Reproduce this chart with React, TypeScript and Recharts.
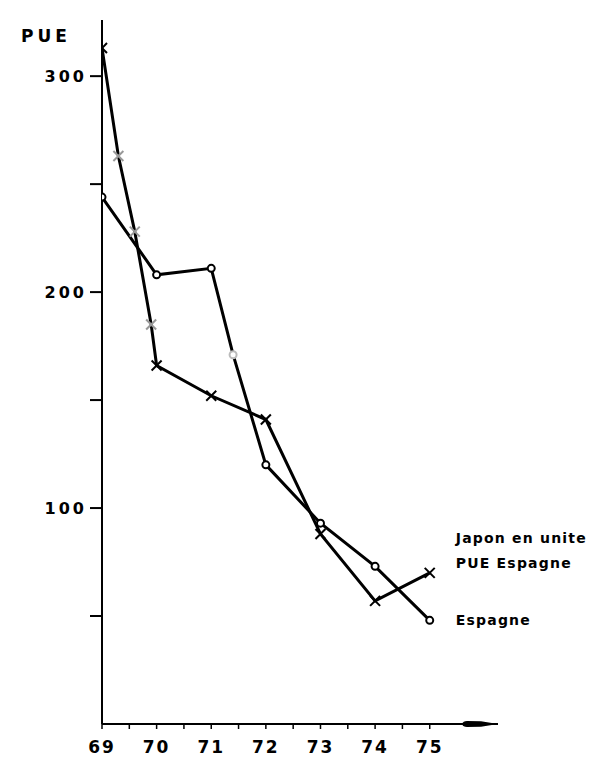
import { LineChart, Line, XAxis, YAxis, Label, LabelList } from "recharts"

// années et valeurs
const espagneYears = [69, 70, 71, 71.4, 72, 73, 74, 75]
const espagneValues = [244, 208, 211, 171, 120, 93, 73, 48]

const japonYears = [69, 69.3, 69.6, 69.9, 70, 71, 72, 73, 74, 75]
const japonValues = [313, 263, 228, 185, 166, 152, 141, 88, 57, 70]

const xTicks = [69, 69.5, 70, 70.5, 71, 71.5, 72, 72.5, 73, 73.5, 74, 74.5, 75]
const yTicks = [50, 100, 150, 200, 250, 300]

const japonLabel = ["Japon en unite", "PUE Espagne"]
const espagneLabel = "Espagne"

const espagneData = espagneYears.map((year, i) => ({ year, value: espagneValues[i] }))
const japonData = japonYears.map((year, i) => ({ year, value: japonValues[i] }))

const FONT = "'DejaVu Sans', sans-serif"

const isMain = (year: number) => Number.isInteger(year)

const CircleDot = (props: any) => {
  const { cx, cy, payload } = props
  if (cx == null || cy == null) return null
  const faint = !isMain(payload.year)
  return (
    <circle
      key={`c-${payload.year}`}
      cx={cx}
      cy={cy}
      r={3.5}
      fill="#fff"
      stroke={faint ? "#bbb" : "#000"}
      strokeWidth={2}
    />
  )
}

const CrossDot = (props: any) => {
  const { cx, cy, payload } = props
  if (cx == null || cy == null) return null
  const faint = !isMain(payload.year)
  const s = 5
  const color = faint ? "#999" : "#000"
  return (
    <g key={`x-${payload.year}`}>
      <line x1={cx - s} y1={cy - s} x2={cx + s} y2={cy + s} stroke={color} strokeWidth={2} />
      <line x1={cx - s} y1={cy + s} x2={cx + s} y2={cy - s} stroke={color} strokeWidth={2} />
    </g>
  )
}

const labelStyle = {
  fontFamily: FONT,
  fontWeight: "bold" as const,
  fontSize: 14,
  letterSpacing: 1.2,
  fill: "#000",
}

export default function App() {
  const lastJ = japonData.length - 1
  const lastE = espagneData.length - 1

  return (
    <div style={{ position: "absolute", left: 0, top: 0, background: "#fff" }}>
      <LineChart
        width={600}
        height={768}
        margin={{ top: 20, right: 102, bottom: 14, left: 20 }}
      >
        <defs>
          <marker
            id="arrowHead"
            markerWidth={40}
            markerHeight={10}
            refX={36}
            refY={5}
            orient="auto"
            markerUnits="userSpaceOnUse"
          >
            <path d="M0,5 Q1,2 5,2 L19,2.3 L36,5 L19,7.7 L5,8 Q1,8 0,5 Z" fill="#000" />
          </marker>
        </defs>
        <XAxis
          dataKey="year"
          type="number"
          domain={[69, 76.25]}
          ticks={xTicks}
          interval={0}
          allowDataOverflow
          height={30}
          tickSize={5}
          tickMargin={12}
          tickFormatter={(v: number) => (Number.isInteger(v) ? String(v) : "")}
          tick={{ fill: "#000", fontSize: 17, fontFamily: FONT, fontWeight: "bold", letterSpacing: 2 }}
          tickLine={{ stroke: "#000", strokeWidth: 1.5 }}
          axisLine={{ stroke: "#000", strokeWidth: 2, markerEnd: "url(#arrowHead)" }}
        />
        <YAxis
          dataKey="value"
          type="number"
          domain={[0, 326]}
          ticks={yTicks}
          interval={0}
          allowDataOverflow
          width={82}
          tickSize={12}
          tickMargin={3}
          tickFormatter={(v: number) => (v % 100 === 0 ? String(v) : "")}
          tick={{ fill: "#000", fontSize: 16, fontFamily: FONT, fontWeight: "bold", letterSpacing: 3 }}
          tickLine={{ stroke: "#000", strokeWidth: 2 }}
          axisLine={{ stroke: "#000", strokeWidth: 2 }}
        >
          <Label
            content={(props: any) => {
              const vb = props.viewBox || {}
              return (
                <text
                  x={vb.x + 1}
                  y={vb.y + 22}
                  fontFamily={FONT}
                  fontSize={17}
                  fontWeight="bold"
                  letterSpacing={4}
                  fill="#000"
                >
                  PUE
                </text>
              )
            }}
          />
        </YAxis>
        <Line
          data={japonData}
          dataKey="value"
          type="linear"
          stroke="#000"
          strokeWidth={3}
          dot={<CrossDot />}
          activeDot={false}
          isAnimationActive={false}
        >
          <LabelList
            dataKey="value"
            content={(props: any) => {
              if (props.index !== lastJ) return null
              const { x, y } = props
              return (
                <g>
                  <text x={x + 26} y={y - 30} {...labelStyle}>
                    {japonLabel[0]}
                  </text>
                  <text x={x + 26} y={y - 5} {...labelStyle}>
                    {japonLabel[1]}
                  </text>
                </g>
              )
            }}
          />
        </Line>
        <Line
          data={espagneData}
          dataKey="value"
          type="linear"
          stroke="#000"
          strokeWidth={3}
          dot={<CircleDot />}
          activeDot={false}
          isAnimationActive={false}
        >
          <LabelList
            dataKey="value"
            content={(props: any) => {
              if (props.index !== lastE) return null
              const { x, y } = props
              return (
                <text x={x + 26} y={y + 5} {...labelStyle}>
                  {espagneLabel}
                </text>
              )
            }}
          />
        </Line>
      </LineChart>
    </div>
  )
}
